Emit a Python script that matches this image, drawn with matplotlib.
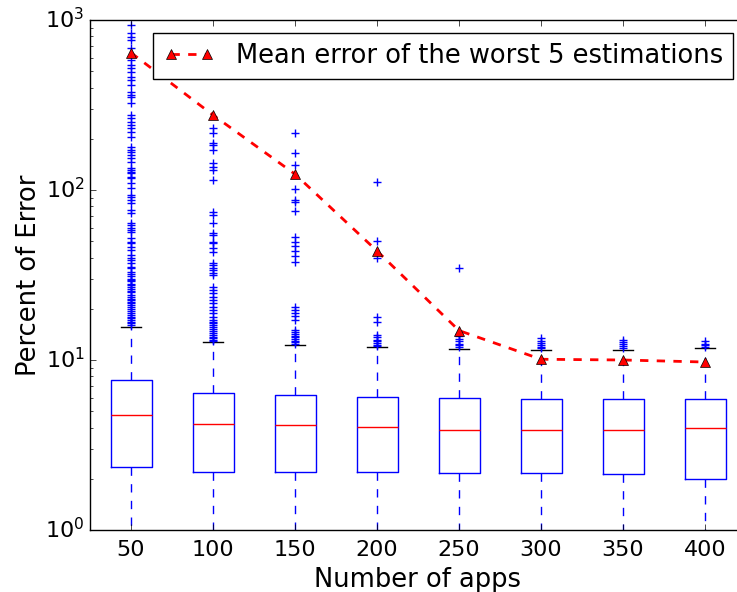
import matplotlib
matplotlib.use("Agg")
import matplotlib.pyplot as plt

plt.style.use("classic")
plt.rcParams["figure.facecolor"] = "white"
plt.rcParams["savefig.facecolor"] = "white"

apps = [50, 100, 150, 200, 250, 300, 350, 400]
q1 = [2.36, 2.2, 2.2, 2.2, 2.17, 2.16, 2.13, 1.99]
med = [4.75, 4.19, 4.15, 4.02, 3.87, 3.87, 3.9, 3.96]
q3 = [7.6, 6.4, 6.25, 6.06, 5.96, 5.87, 5.9, 5.93]
whis_lo = [0.5, 0.5, 0.5, 0.5, 0.5, 0.5, 0.5, 0.5]
whis_hi = [15.7, 12.7, 12.3, 11.9, 11.6, 11.4, 11.5, 11.8]
mean_worst5 = [642, 276, 124, 43.8, 14.9, 10.1, 10.0, 9.73]

fliers_50 = [935, 839, 794, 762, 685, 582, 544, 522, 494, 462, 444, 415, 377, 362,
             353, 325, 276, 265, 251, 241, 232, 219, 205, 179, 172, 167, 161, 154,
             146, 135, 128, 131, 126, 119, 118, 110, 103, 93.5, 91, 87.4, 83.9,
             76.3, 73.2, 63.9, 62.2, 59.7, 58.2, 56.6, 52.2, 49.5, 48.8, 46.2, 44.4,
             41.5, 39.8, 38.7, 37.2, 35.2, 34.8, 32.9, 32, 31, 30, 29.5, 29, 28,
             27.5, 27, 26, 25.5, 25, 24, 23.5, 23, 22.5, 22, 21.5, 21, 20.5, 20,
             19.5, 19, 18.5, 18, 17.6, 17.2, 16.8, 16.4, 16.0]
fliers_100 = [231, 216, 188, 184, 172, 144, 137, 131, 115, 74.5, 71.3, 63.7, 55.6,
              54.4, 49.7, 48.6, 45.4, 43.4, 37.1, 36.2, 34.6, 33.8, 32.4, 31.6, 27.0,
              25.8, 24.7, 23.6, 22.5, 21.6, 20.6, 19.7, 18.8, 18.0, 17.2, 16.8, 16.4,
              16.0, 15.6, 15.2, 14.8, 14.4, 14.0, 13.7, 13.4, 13.1, 12.9]
fliers_150 = [217, 164, 140, 101, 87.4, 85.3, 75.5, 52.7, 49.7, 46.9, 44.0, 40.9,
              37.9, 20.6, 19.7, 19.0, 18.1, 17.3, 15.0, 14.6, 14.2, 13.9, 13.6, 13.3,
              13.0, 12.7, 12.5]
fliers_200 = [111, 50.3, 39.6, 18.0, 16.8, 14.0, 13.6, 13.2, 12.9, 12.6, 12.3, 12.1]
fliers_250 = [34.9, 14.3, 13.8, 13.3, 12.9, 12.5, 12.2, 11.9]
fliers_300 = [13.4, 13.0, 12.6, 12.3, 12.0, 11.7]
fliers_350 = [13.1, 12.7, 12.4, 12.1, 11.8]
fliers_400 = [12.9, 12.5, 12.2, 12.0]
fliers = [fliers_50, fliers_100, fliers_150, fliers_200,
          fliers_250, fliers_300, fliers_350, fliers_400]

stats = []
for i in range(len(apps)):
    stats.append(dict(med=med[i], q1=q1[i], q3=q3[i], whislo=whis_lo[i],
                      whishi=whis_hi[i], fliers=fliers[i], label=str(apps[i])))

fig = plt.figure(figsize=(7.37, 5.92), dpi=100)
ax = fig.add_axes([90 / 737, 62 / 592, 656 / 737, 510 / 592])
positions = list(range(1, len(apps) + 1))
ax.bxp(stats, positions=positions, widths=0.5,
       boxprops=dict(color="b", linewidth=1),
       whiskerprops=dict(color="b", linestyle="--", linewidth=1),
       capprops=dict(color="k", linewidth=1),
       medianprops=dict(color="r", linewidth=1),
       flierprops=dict(marker="+", markeredgecolor="b", markersize=6,
                       linestyle="none"))
ax.plot(positions, mean_worst5, "r--", marker="^", markerfacecolor="r",
        markeredgecolor="k", markersize=7, linewidth=2,
        label="Mean error of the worst 5 estimations", zorder=5)
ax.set_yscale("log")
ax.set_ylim(1, 1000)
ax.set_xlim(0.5, len(apps) + 0.5)
ax.set_xticks(positions)
ax.set_xticklabels([str(a) for a in apps])
ax.tick_params(labelsize=16)
ax.tick_params(axis="x", pad=7)
ax.set_xlabel("Number of apps", fontsize=18.5, labelpad=5)
ax.set_ylabel("Percent of Error", fontsize=18.5, labelpad=2)
ax.legend(loc="upper right", fontsize=18.5, numpoints=2)
fig.savefig("out.png", dpi=100)
